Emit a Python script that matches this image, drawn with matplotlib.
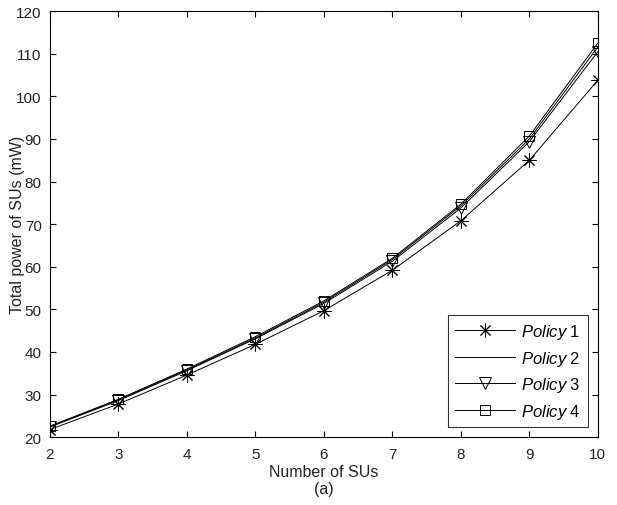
import numpy as np
import matplotlib.pyplot as plt

plt.rcParams['font.family'] = ['Liberation Sans', 'DejaVu Sans']
plt.rcParams['mathtext.fontset'] = 'custom'
plt.rcParams['mathtext.it'] = 'Liberation Sans:italic'
plt.rcParams['mathtext.rm'] = 'Liberation Sans'

# number of SUs
n_su = [2, 3, 4, 5, 6, 7, 8, 9, 10]

# total power (mW) per policy
policy1 = [21.8, 27.8, 34.6, 41.8, 49.7, 59.2, 70.8, 85.0, 103.8]
policy2 = [22.5, 28.8, 35.8, 43.3, 51.7, 61.7, 74.3, 90.0, 111.6]
policy3 = [22.4, 28.6, 35.6, 43.1, 51.4, 61.3, 73.8, 89.4, 110.5]
policy4 = [22.6, 28.9, 36.0, 43.6, 52.0, 62.0, 74.7, 90.7, 112.5]

fig = plt.figure(figsize=(6.17, 5.06), dpi=100)
ax = fig.add_axes([0.081, 0.134, 0.888, 0.842])

lw = 0.7
ax.plot(n_su, policy1, color='k', lw=lw, marker=(8, 2, 0), ms=10, mew=0.7, label=r'$\it{Policy}$ 1')
ax.plot(n_su, policy2, color='k', lw=lw, label=r'$\it{Policy}$ 2')
ax.plot(n_su, policy3, color='k', lw=lw, marker='v', ms=9, mfc='none', mew=0.7, label=r'$\it{Policy}$ 3')
ax.plot(n_su, policy4, color='k', lw=lw, marker='s', ms=7.5, mfc='none', mew=0.7, label=r'$\it{Policy}$ 4')

ax.set_xlim(2, 10)
ax.set_ylim(20, 120)
ax.set_xticks(range(2, 11))
ax.set_yticks(range(20, 121, 10))
ax.tick_params(direction='in', top=True, right=True, labelsize=11, length=4,
               labelcolor='#222222')
ax.tick_params(axis='x', pad=7)
ax.tick_params(axis='y', pad=6)
for s in ax.spines.values():
    s.set_linewidth(0.8)

ax.set_xlabel('Number of SUs\n(a)', fontsize=11.5, linespacing=1.2, labelpad=2, color='#222222')
ax.set_ylabel('Total power of SUs (mW)', fontsize=11.5, color='#222222')
ax.yaxis.set_label_coords(-0.046, 0.5)

leg = ax.legend(loc='lower right', fontsize=12, frameon=True, fancybox=False,
                edgecolor='k', handlelength=3.6, borderaxespad=0.6, labelspacing=0.45,
                handletextpad=0.4)
leg.get_frame().set_linewidth(0.8)

fig.savefig('out.png', dpi=100)
